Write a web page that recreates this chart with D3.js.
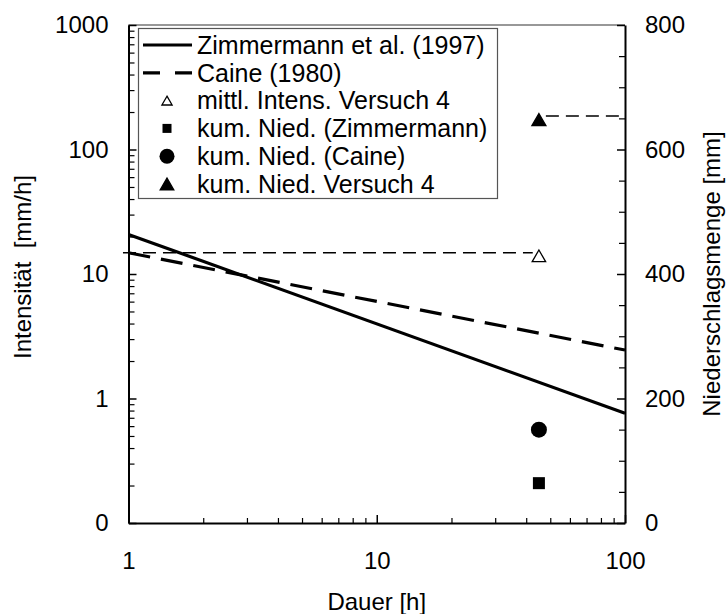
<!DOCTYPE html>
<html><head><meta charset="utf-8">
<script src="https://cdn.jsdelivr.net/npm/d3@7"></script>
<style>
body{margin:0;background:#fff}
text{font-family:"Liberation Sans",Arial,sans-serif;fill:#000}
</style>
</head><body>
<svg id="c" width="726" height="614"></svg>
<script>
// ---- data ----
const lineDurations = [1, 100];            // h
const zimmermannIntensity = [20.8, 0.76];  // mm/h
const caineIntensity = [14.8, 2.45];       // mm/h
const testDuration = [45];                 // h
const meanIntensityTest = [14.0];          // mm/h (left axis)
const cumTest = [648];                     // mm (right axis)
const cumZimmermann = [64];                // mm
const cumCaine = [150];                    // mm
const refIntensityX = [0.95, 42.5];
const refIntensityY = [14.8, 14.8];
const refCumX = [48, 100];
const refCumY = [654, 654];
const xTickValues = [1, 10, 100];
const xTickLabels = ["1", "10", "100"];
const yLeftTickValues = [0.1, 1, 10, 100, 1000];
const yLeftTickLabels = ["0", "1", "10", "100", "1000"];
const yRightTickValues = [0, 200, 400, 600, 800];
const legendLabels = ["Zimmermann et al. (1997)", "Caine (1980)", "mittl. Intens. Versuch 4",
  "kum. Nied. (Zimmermann)", "kum. Nied. (Caine)", "kum. Nied. Versuch 4"];

// ---- layout ----
const L = 128.5, R = 625, T = 25, B = 523;
const svg = d3.select("#c");
const x = d3.scaleLog().domain([1, 100]).range([L, R]);
const yL = d3.scaleLog().domain([0.1, 1000]).range([B, T]);
const yR = d3.scaleLinear().domain([0, 800]).range([B, T]);
const FS = 24;

function styleAxis(g, w) {
  g.select(".domain").attr("stroke", "#000").attr("stroke-width", w);
  g.selectAll(".tick line").attr("stroke", "#000").attr("stroke-width", 1.5);
  g.selectAll("text").attr("font-size", FS).attr("font-family", '"Liberation Sans",Arial,sans-serif').attr("fill", "#000");
}

// top border
svg.append("line").attr("x1", L).attr("x2", R).attr("y1", T).attr("y2", T)
  .attr("stroke", "#333").attr("stroke-width", 1.2);

// minor ticks
const xMinor = x.ticks().filter(v => !xTickValues.includes(v));
svg.append("g").attr("transform", `translate(0,${B})`)
  .call(d3.axisBottom(x).tickValues(xMinor).tickSize(-5).tickFormat(""))
  .call(g => { g.select(".domain").remove(); g.selectAll("line").attr("stroke-width", 1.2).attr("stroke", "#000"); });
const yMinor = yL.ticks().filter(v => !yLeftTickValues.some(t => Math.abs(t - v) < 1e-9));
svg.append("g").attr("transform", `translate(${L},0)`)
  .call(d3.axisLeft(yL).tickValues(yMinor).tickSize(-6).tickFormat(""))
  .call(g => { g.select(".domain").remove(); g.selectAll("line").attr("stroke-width", 1.2).attr("stroke", "#000"); });
const yRMinor = d3.range(50, 800, 50).filter(v => !yRightTickValues.includes(v));
svg.append("g").attr("transform", `translate(${R},0)`)
  .call(d3.axisRight(yR).tickValues(yRMinor).tickSize(-6).tickFormat(""))
  .call(g => { g.select(".domain").remove(); g.selectAll("line").attr("stroke-width", 1.2).attr("stroke", "#000"); });

// major axes
svg.append("g").attr("transform", `translate(0,${B})`)
  .call(d3.axisBottom(x).tickValues(xTickValues).tickSize(-8).tickSizeOuter(0).tickPadding(28.5)
    .tickFormat((d, i) => xTickLabels[i]))
  .call(g => styleAxis(g, 2));
svg.append("g").attr("transform", `translate(${L},0)`)
  .call(d3.axisLeft(yL).tickValues(yLeftTickValues).tickSize(-8).tickSizeOuter(0).tickPadding(20)
    .tickFormat((d, i) => yLeftTickLabels[i]))
  .call(g => styleAxis(g, 2));
svg.append("g").attr("transform", `translate(${R},0)`)
  .call(d3.axisRight(yR).tickValues(yRightTickValues).tickSize(-8).tickSizeOuter(0).tickPadding(20))
  .call(g => styleAxis(g, 2));

// reference dashed lines
const refLine = d3.line();
svg.append("path")
  .attr("d", refLine(refIntensityX.map((d, i) => [x(d), yL(refIntensityY[i])])))
  .attr("fill", "none").attr("stroke", "#000").attr("stroke-width", 1.5).attr("stroke-dasharray", "13,7");
svg.append("path")
  .attr("d", refLine(refCumX.map((d, i) => [x(d), yR(refCumY[i])])))
  .attr("fill", "none").attr("stroke", "#000").attr("stroke-width", 1.5).attr("stroke-dasharray", "13,7");

// model lines
const lineL = d3.line().x(d => x(d[0])).y(d => yL(d[1]));
svg.append("path")
  .attr("d", lineL(lineDurations.map((d, i) => [d, caineIntensity[i]])))
  .attr("fill", "none").attr("stroke", "#000").attr("stroke-width", 3.2).attr("stroke-dasharray", "22,11");
svg.append("path")
  .attr("d", lineL(lineDurations.map((d, i) => [d, zimmermannIntensity[i]])))
  .attr("fill", "none").attr("stroke", "#000").attr("stroke-width", 3.2);

// markers
const tri = (s) => d3.symbol().type(d3.symbolTriangle).size(s)();
function triAt(g, cx, cy, s, fill) {
  const side = Math.sqrt(s * 4 / Math.sqrt(3));
  const h = side * Math.sqrt(3) / 2;
  g.append("path").attr("d", tri(s)).attr("transform", `translate(${cx},${cy + h / 6})`)
    .attr("fill", fill).attr("stroke", "#000").attr("stroke-width", 1.3);
}
triAt(svg, x(testDuration[0]), yL(meanIntensityTest[0]), 78, "#fff");
triAt(svg, x(testDuration[0]), yR(cumTest[0]), 85, "#000");
svg.append("rect").attr("x", x(testDuration[0]) - 6).attr("y", yR(cumZimmermann[0]) - 6)
  .attr("width", 12).attr("height", 12).attr("fill", "#000");
svg.append("circle").attr("cx", x(testDuration[0])).attr("cy", yR(cumCaine[0])).attr("r", 8).attr("fill", "#000");

// legend
const lg = svg.append("g");
lg.append("rect").attr("x", 138.5).attr("y", 28.5).attr("width", 359).attr("height", 170)
  .attr("fill", "#fff").attr("stroke", "#555").attr("stroke-width", 1.2);
const rowY = i => 45 + i * 27.8;
lg.append("line").attr("x1", 143).attr("x2", 192).attr("y1", rowY(0)).attr("y2", rowY(0))
  .attr("stroke", "#000").attr("stroke-width", 3.2);
lg.append("line").attr("x1", 143).attr("x2", 192).attr("y1", rowY(1)).attr("y2", rowY(1))
  .attr("stroke", "#000").attr("stroke-width", 3.2).attr("stroke-dasharray", "17,15");
triAt(lg, 167, rowY(2), 45, "#fff");
lg.append("rect").attr("x", 167 - 4.5).attr("y", rowY(3) - 4.5).attr("width", 9).attr("height", 9).attr("fill", "#000");
lg.append("circle").attr("cx", 167).attr("cy", rowY(4)).attr("r", 7.5).attr("fill", "#000");
triAt(lg, 167, rowY(5), 80, "#000");
legendLabels.forEach((t, i) => {
  lg.append("text").attr("x", 197).attr("y", rowY(i)).attr("dy", "0.35em")
    .attr("font-size", 25).text(t);
});

// axis titles
svg.append("text").attr("transform", `translate(31,267) rotate(-90)`)
  .attr("text-anchor", "middle").attr("font-size", FS)
  .style("white-space", "pre").text("Intensität  [mm/h]");
svg.append("text").attr("transform", `translate(720,274) rotate(-90)`)
  .attr("text-anchor", "middle").attr("font-size", FS).text("Niederschlagsmenge [mm]");
svg.append("text").attr("x", (L + R) / 2).attr("y", 610).attr("text-anchor", "middle")
  .attr("font-size", FS).text("Dauer [h]");
</script>
</body></html>
